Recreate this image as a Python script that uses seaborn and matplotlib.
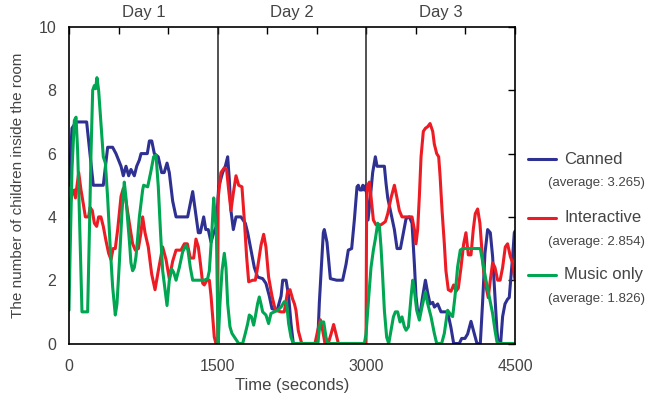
import numpy as np
import pandas as pd
import matplotlib
matplotlib.use("Agg")
import matplotlib.pyplot as plt
import seaborn as sns
from matplotlib.lines import Line2D

# ---------------- data ----------------
canned_t = [0, 30, 70, 178, 245, 346, 390, 440, 474, 525, 548, 575, 602, 625, 659, 683, 710, 727,
            790, 811, 835, 861, 900, 935, 960, 989, 1012, 1046, 1080, 1197, 1248, 1305, 1325, 1359,
            1380, 1405, 1433, 1460, 1487, 1510, 1550, 1577, 1601, 1617, 1634, 1658, 1685, 1735, 1779,
            1803, 1836, 1870, 1903, 1954, 1987, 2021, 2048, 2100, 2140, 2156, 2190, 2216, 2240, 2263,
            2509, 2526, 2566, 2576, 2603, 2637, 2700, 2761, 2795, 2818, 2852, 2879, 2906, 2919, 2936,
            2955, 2965, 2980, 2997, 3017, 3037, 3064, 3091, 3108, 3132, 3182, 3199, 3216, 3249, 3283,
            3310, 3344, 3374, 3401, 3434, 3461, 3485, 3501, 3518, 3545, 3569, 3596, 3619, 3643, 3670,
            3687, 3720, 3753, 3820, 3854, 3881, 3938, 3962, 3995, 4022, 4056, 4082, 4116, 4150, 4173,
            4197, 4224, 4251, 4274, 4298, 4318, 4331, 4355, 4375, 4399, 4425, 4442, 4459, 4476, 4493,
            4500]
canned_v = [5.0, 6.8, 7.0, 7.0, 5.0, 5.0, 6.2, 6.2, 6.0, 5.6, 5.3, 5.6, 5.3, 5.5, 5.3, 5.6, 5.8, 6.0,
            6.0, 6.4, 6.4, 6.0, 5.9, 5.4, 5.4, 5.7, 5.4, 4.5, 4.0, 4.0, 4.8, 3.5, 3.5, 4.0,
            3.6, 3.6, 3.2, 3.5, 3.7, 4.95, 5.4, 5.6, 5.9, 5.2, 4.2, 3.6, 4.0, 4.0, 3.8,
            3.5, 2.95, 2.4, 2.1, 2.05, 1.9, 1.5, 1.1, 1.05, 1.5, 2.0, 2.0, 1.5, 0.63, 0.0,
            0.0, 1.3, 3.5, 3.6, 3.2, 2.05, 2.0, 2.0, 2.5, 2.95, 3.0, 3.9, 4.95, 5.0, 4.85,
            4.85, 5.0, 4.85, 5.0, 3.9, 4.5, 5.4, 5.9, 5.6, 5.6, 5.6, 5.05, 4.6, 4.1, 3.6,
            3.0, 3.0, 3.5, 3.95, 4.0, 3.8, 2.5, 1.5, 1.0, 1.0, 1.5, 2.0, 1.6, 1.25, 1.3,
            1.15, 1.25, 1.0, 1.0, 0.5, 0.0, 0.0, 0.16, 0.16, 0.3, 0.7, 0.4, 0.0, 0.0, 1.3,
            2.85, 3.6, 3.5, 2.75, 1.5, 0.4, 0.0, 0.0, 0.85, 1.25, 1.4, 1.45, 2.1, 2.75, 3.5,
            3.55]

interactive_t = [0, 10, 30, 54, 65, 98, 121, 145, 165, 198, 212, 235, 256, 279, 299, 322, 346, 373,
                 400, 424, 445, 467, 491, 525, 548, 575, 609, 642, 669, 700, 726, 743, 767, 800, 834,
                 868, 901, 945, 979, 1012, 1046, 1080, 1130, 1164, 1194, 1224, 1258, 1281, 1305, 1325,
                 1349, 1365, 1392, 1416, 1433, 1450, 1466, 1483, 1500, 1505, 1533, 1567, 1590, 1611,
                 1634, 1658, 1685, 1712, 1745, 1769, 1792, 1813, 1853, 1880, 1903, 1937, 1964, 1987,
                 2014, 2048, 2082, 2139, 2172, 2206, 2230, 2257, 2275, 2290, 2314, 2348, 2482, 2509,
                 2536, 2560, 2583, 2615, 2644, 2670, 2694, 2718, 2997, 3003, 3014, 3031, 3047, 3071,
                 3098, 3148, 3192, 3216, 3249, 3283, 3306, 3333, 3360, 3461, 3485, 3501, 3518, 3535,
                 3552, 3575, 3596, 3619, 3643, 3670, 3686, 3710, 3730, 3744, 3764, 3787, 3803, 3827,
                 3854, 3881, 3905, 3928, 3955, 3982, 4005, 4029, 4056, 4079, 4099, 4123, 4146, 4166,
                 4183, 4207, 4230, 4251, 4274, 4298, 4325, 4350, 4375, 4402, 4425, 4453, 4476, 4500]
interactive_v = [4.0, 4.4, 4.7, 4.85, 4.6, 5.4, 4.85, 4.4, 4.0, 4.0, 4.3, 4.2, 3.8, 3.7, 4.0, 4.0, 3.7, 3.25,
                 2.85, 2.65, 3.0, 3.0, 3.6, 4.65, 4.9, 4.5, 3.8, 3.15, 2.95, 3.0, 3.5, 4.0, 3.5, 3.05, 2.2,
                 1.7, 2.3, 3.05, 2.65, 2.05, 2.6, 2.95, 2.95, 3.15, 3.15, 2.7, 2.7, 3.3, 3.05, 2.55,
                 1.9, 1.85, 2.0, 2.0, 1.5, 0.85, 0.2, 0.0, 0.0, 4.6, 5.4, 5.55, 5.5, 4.85,
                 4.2, 4.75, 5.3, 5.0, 4.95, 3.9, 2.75, 1.95, 2.0, 2.0, 2.4, 3.1, 3.45, 3.05,
                 2.1, 1.5, 1.05, 1.0, 1.0, 1.65, 1.7, 1.4, 1.25, 1.05, 0.4, 0.0, 0.0, 0.4,
                 0.75, 0.4, 0.0, 0.0, 0.3, 0.6, 0.3, 0.0, 0.0, 4.5, 5.0, 5.1, 4.65, 3.9,
                 3.75, 3.75, 3.85, 4.1, 4.6, 5.0, 4.65, 4.2, 4.0, 4.0, 3.6, 3.15, 3.6, 4.65,
                 5.9, 6.7, 6.8, 6.85, 6.95, 6.7, 6.3, 6.0, 5.9, 5.3, 4.2, 3.15, 2.3, 1.7,
                 1.65, 1.85, 1.65, 1.75, 2.4, 3.15, 3.5, 2.8, 2.8, 3.6, 4.1, 4.25, 3.8, 2.95,
                 2.3, 1.8, 1.45, 2.0, 2.55, 2.4, 2.0, 2.0, 2.4, 3.05, 3.15, 2.75, 2.55, 2.0]

music_t = [0, 10, 30, 54, 71, 87, 104, 121, 131, 188, 205, 222, 239, 256, 268, 282, 299, 316, 333, 346,
           367, 390, 414, 440, 467, 484, 508, 535, 558, 575, 592, 609, 625, 642, 659, 676, 693, 710,
           726, 743, 753, 794, 827, 854, 878, 901, 922, 945, 969, 989, 1012, 1036, 1056, 1080, 1113,
           1147, 1180, 1200, 1224, 1248, 1365, 1399, 1416, 1440, 1460, 1473, 1487, 1505, 1523, 1544,
           1567, 1584, 1601, 1624, 1644, 1678, 1712, 1752, 1779, 1803, 1819, 1840, 1863, 1880, 1903,
           1920, 1937, 1954, 1987, 2014, 2038, 2071, 2105, 2139, 2172, 2195, 2216, 2240, 2263, 2509,
           2536, 2570, 2593, 2610, 2980, 2997, 3024, 3047, 3071, 3091, 3115, 3132, 3148, 3165, 3182,
           3205, 3226, 3249, 3273, 3293, 3316, 3340, 3360, 3384, 3401, 3425, 3451, 3468, 3485, 3508,
           3535, 3562, 3596, 3619, 3653, 3686, 3710, 3760, 3787, 3820, 3854, 3871, 3894, 3921, 3948,
           3972, 4150, 4173, 4207, 4241, 4274, 4298, 4318, 4342, 4500]
music_v = [1.05, 2.7, 5.5, 7.05, 7.15, 6.1, 4.2, 2.1, 1.0, 1.0, 3.4, 6.0, 8.0, 8.15, 8.05, 8.4, 8.0, 7.25, 6.5, 5.9,
           5.7, 4.6, 3.15, 1.8, 0.9, 1.25, 2.55, 4.2, 5.1, 4.6, 3.9, 3.25, 2.55, 2.3, 2.4, 2.75, 3.35, 4.0,
           4.4, 4.85, 5.0, 4.95, 5.45, 5.9, 5.95, 4.95, 3.6, 2.3, 1.7, 1.2, 2.0, 2.35, 2.25, 2.0, 2.4,
           2.9, 3.1, 2.95, 2.4, 2.0, 2.0, 2.05, 2.3, 3.45, 4.6, 4.1, 3.5, 0.0, 1.26, 2.3,
           2.85, 2.4, 1.26, 0.53, 0.32, 0.16, 0.0, 0.0, 0.32, 0.63, 0.9, 0.85, 0.58, 0.85, 1.26,
           1.47, 1.25, 1.0, 0.9, 0.63, 0.95, 1.0, 1.05, 1.15, 1.32, 1.3, 0.63, 0.2, 0.0, 0.0,
           0.68, 0.68, 0.2, 0.0, 0.0, 0.3, 1.47, 2.4, 2.95, 3.3, 3.8, 3.7, 3.05, 2.1, 1.05,
           0.2, 0.0, 0.42, 0.84, 1.0, 1.0, 0.68, 0.84, 0.53, 0.42, 0.53, 1.47, 2.0, 1.68, 1.05,
           0.74, 1.16, 1.63, 1.26, 0.84, 0.32, 0.0, 0.0, 0.32, 1.05, 0.9, 0.85, 1.47, 2.42, 2.95,
           3.0, 3.0, 2.6, 2.0, 1.47, 0.95, 0.42, 0.05, 0.0, 0.0]

series_names = ["Canned", "Interactive", "Music only"]
averages = ["3.265", "2.854", "1.826"]
day_labels = ["Day 1", "Day 2", "Day 3"]
day_bounds = [0, 1500, 3000, 4500]
x_ticks = [0, 500, 1000, 1500, 2000, 2500, 3000, 3500, 4000, 4500]
x_tick_labels = ["0", "", "", "1500", "", "", "3000", "", "", "4500"]
y_ticks = [0, 2, 4, 6, 8, 10]
colors = ["#2E3192", "#ED1C24", "#00A651"]

# ---------------- figure ----------------
sns.set_theme(style="white")
plt.rcParams['font.family'] = ['Liberation Sans', 'DejaVu Sans']
text_color = "#444444"

W, H = 663, 403
fig = plt.figure(figsize=(W / 100, H / 100), dpi=100)
ax = fig.add_axes([69 / W, (H - 343.5) / H, 446 / W, 316.5 / H])

df = pd.concat([
    pd.DataFrame({"t": canned_t, "v": canned_v, "series": series_names[0]}),
    pd.DataFrame({"t": interactive_t, "v": interactive_v, "series": series_names[1]}),
    pd.DataFrame({"t": music_t, "v": music_v, "series": series_names[2]}),
], ignore_index=True)

for b in day_bounds[1:-1]:
    ax.axvline(b, color="#222222", lw=1.1, zorder=1)

sns.lineplot(data=df, x="t", y="v", hue="series", hue_order=series_names,
             palette=colors, estimator=None, sort=False, lw=2.2,
             ax=ax, legend=False, zorder=2)

ax.set_xlim(0, 4500)
ax.set_ylim(0, 10)
ax.set_xticks(x_ticks)
ax.set_xticklabels(x_tick_labels)
ax.set_yticks(y_ticks)
ax.tick_params(axis="both", direction="in", length=5, width=1.0, color="black",
               top=True, right=True, labelsize=11.5, labelcolor=text_color)
ax.tick_params(axis="x", pad=11)
ax.tick_params(axis="y", pad=9)
for s in ax.spines.values():
    s.set_color("black")
    s.set_linewidth(1.2)

ax.set_xlabel("Time (seconds)", fontsize=12, color=text_color, labelpad=3)
ax.set_ylabel("The number of children inside the room", fontsize=11, color=text_color, labelpad=10)

for i, lab in enumerate(day_labels):
    ax.text((day_bounds[i] + day_bounds[i + 1]) / 2, 1.045, lab,
            transform=ax.get_xaxis_transform(), ha="center", va="center",
            fontsize=12, color=text_color)

# legend (manual)
line_y = [159, 218, 275]
avg_y = [183, 242, 299]
for i, name in enumerate(series_names):
    fy = 1 - line_y[i] / H
    fig.add_artist(Line2D([528 / W, 556 / W], [fy, fy], color=colors[i], lw=2.2))
    fig.text(564 / W, fy, name, ha="left", va="center", fontsize=12, color=text_color)
    fig.text(548 / W, 1 - avg_y[i] / H, f"(average: {averages[i]})", ha="left",
             va="center", fontsize=9.5, color=text_color)

fig.savefig("out.png", dpi=100)
